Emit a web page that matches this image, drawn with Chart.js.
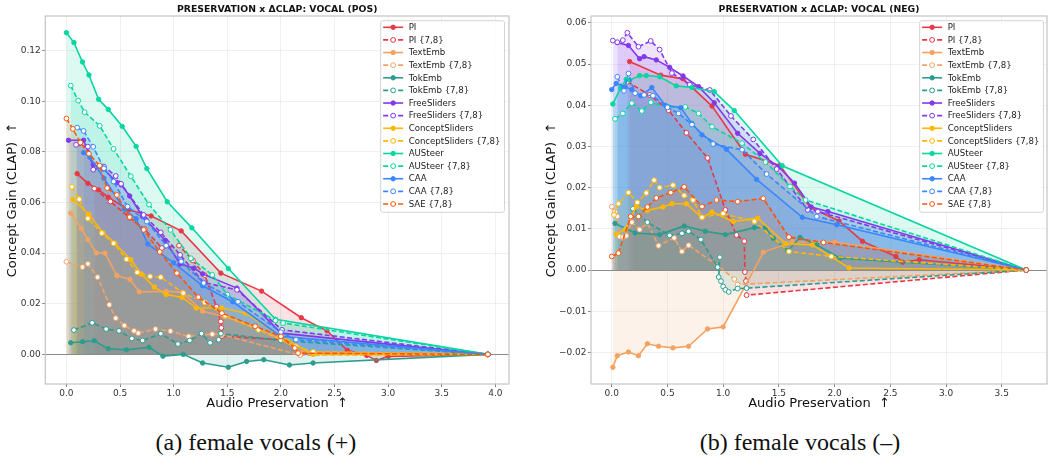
<!DOCTYPE html>
<html>
<head>
<meta charset="utf-8">
<script src="https://cdn.jsdelivr.net/npm/chart.js@4.4.0/dist/chart.umd.min.js"></script>
<style>
  body { margin: 0; background: #fff; width: 1053px; height: 459px; position: relative; overflow: hidden; }
  .panel { position: absolute; top: 0; height: 420px; }
  .cap { position: absolute; top: 429px; width: 400px; height: 26px; line-height: 26px;
         font: 24px 'Liberation Serif', 'Times New Roman', serif; color: #111; text-align: center; }
</style>
</head>
<body>
<div class="panel" style="left:0;width:525px"><canvas id="pos"></canvas></div>
<div class="panel" style="left:525px;width:528px"><canvas id="neg"></canvas></div>
<div class="cap" style="left:56px">(a) female vocals (+)</div>
<div class="cap" style="left:600px">(b) female vocals (–)</div>
<script>
const methods = ['PI', 'PI {7,8}', 'TextEmb', 'TextEmb {7,8}', 'TokEmb', 'TokEmb {7,8}',
  'FreeSliders', 'FreeSliders {7,8}', 'ConceptSliders', 'ConceptSliders {7,8}',
  'AUSteer', 'AUSteer {7,8}', 'CAA', 'CAA {7,8}', 'SAE {7,8}'];

const colors = {
  PI: '#e63946', TextEmb: '#f4a261', TokEmb: '#2a9d8f', FreeSliders: '#8338ec',
  ConceptSliders: '#ffb703', AUSteer: '#06d6a0', CAA: '#3a86ff', SAE: '#fb5607'
};

// ---- vocal (pos): [preservation, clap gain] ----
const pos_PI = [[0.10,0.0714],[0.20,0.0676],[0.30,0.0650],[0.39,0.0621],[0.58,0.0571],[0.79,0.0547],[1.07,0.0488],[1.44,0.0321],[1.82,0.0250],[2.19,0.0145],[2.43,0.0093],[2.62,0.0016],[2.80,-0.0004],[2.89,-0.0024],[3.00,-0.0008],[3.93,0]];
const pos_PI78 = [[0.26,0.0655],[0.41,0.0604],[0.59,0.0540],[0.73,0.0495],[0.89,0.0420],[1.05,0.0430],[1.18,0.0371],[1.29,0.0313],[1.40,0.0188],[1.44,0.0130],[1.445,0.0105],[1.45,0.0072],[2.01,0.0058],[2.19,0.0008],[3.93,0]];
const pos_TextEmb = [[0.04,0.0558],[0.14,0.0497],[0.20,0.0453],[0.28,0.0401],[0.36,0.0400],[0.47,0.0311],[0.59,0.0297],[0.68,0.0247],[0.93,0.0249],[1.08,0.0245],[1.27,0.0170],[1.47,0.0150],[1.78,0.0104],[2.00,0.0060],[2.19,0.0010],[3.93,0]];
const pos_TextEmb78 = [[0.00,0.0366],[0.15,0.0345],[0.20,0.0358],[0.29,0.0305],[0.40,0.0196],[0.46,0.0143],[0.54,0.0114],[0.63,0.0093],[0.67,0.0084],[0.83,0.0100],[0.97,0.0092],[1.14,0.0071],[1.36,0.0080],[1.45,0.0078],[2.18,-0.0003],[3.93,0]];
const pos_TokEmb = [[0.04,0.0046],[0.15,0.0050],[0.26,0.0054],[0.39,0.0022],[0.56,0.0018],[0.77,0.0028],[0.90,-0.0007],[1.09,0.0000],[1.27,-0.0034],[1.51,-0.0051],[1.68,-0.0028],[1.84,-0.0021],[2.08,-0.0042],[2.30,-0.0034],[3.93,0]];
const pos_TokEmb78 = [[0.07,0.0096],[0.24,0.0125],[0.37,0.0100],[0.49,0.0093],[0.61,0.0063],[0.71,0.0055],[0.88,0.0082],[1.04,0.0041],[1.15,0.0055],[1.26,0.0082],[1.34,0.0046],[1.42,0.0058],[1.44,0.0082],[2.00,0.0055],[3.93,0]];
const pos_FreeSliders = [[0.02,0.0846],[0.16,0.0846],[0.25,0.0750],[0.35,0.0733],[0.47,0.0679],[0.51,0.0670],[0.59,0.0626],[0.71,0.0545],[0.92,0.0451],[1.06,0.0357],[1.19,0.0341],[1.27,0.0318],[1.59,0.0262],[2.00,0.0084],[3.93,0]];
const pos_FreeSliders78 = [[0.09,0.0828],[0.20,0.0821],[0.25,0.0730],[0.35,0.0742],[0.46,0.0705],[0.51,0.0674],[0.72,0.0551],[0.88,0.0482],[1.06,0.0393],[1.28,0.0284],[1.59,0.0255],[2.01,0.0097],[3.93,0]];
const pos_ConceptSliders = [[0.06,0.0612],[0.21,0.0554],[0.34,0.0482],[0.45,0.0439],[0.60,0.0374],[0.70,0.0317],[0.82,0.0266],[0.93,0.0237],[1.08,0.0225],[1.21,0.0183],[1.45,0.0183],[1.67,0.0163],[1.99,0.0075],[2.30,0.0000],[3.93,0]];
const pos_ConceptSliders78 = [[0.05,0.0662],[0.12,0.0613],[0.20,0.0537],[0.33,0.0479],[0.44,0.0439],[0.56,0.0376],[0.66,0.0324],[0.78,0.0308],[0.88,0.0305],[1.09,0.0242],[1.29,0.0205],[1.48,0.0153],[1.79,0.0097],[2.14,0.0032],[2.30,0.0010],[3.93,0]];
const pos_AUSteer = [[0.00,0.1271],[0.07,0.1232],[0.15,0.1155],[0.21,0.1104],[0.30,0.1008],[0.39,0.0968],[0.52,0.0901],[0.65,0.0822],[0.75,0.0734],[0.94,0.0603],[1.17,0.0500],[1.51,0.0339],[1.95,0.0139],[3.93,0]];
const pos_AUSteer78 = [[0.04,0.1062],[0.11,0.1003],[0.17,0.0957],[0.31,0.0903],[0.44,0.0812],[0.60,0.0704],[0.77,0.0592],[0.97,0.0492],[1.16,0.0380],[1.36,0.0314],[1.50,0.0236],[1.95,0.0134],[2.02,0.0124],[3.93,0]];
const pos_CAA = [[0.16,0.0797],[0.22,0.0778],[0.35,0.0696],[0.54,0.0574],[0.65,0.0536],[0.76,0.0436],[1.00,0.0362],[1.27,0.0271],[1.55,0.0208],[2.00,0.0071],[3.93,0]];
const pos_CAA78 = [[0.10,0.0896],[0.16,0.0883],[0.25,0.0820],[0.35,0.0735],[0.44,0.0683],[0.57,0.0584],[0.75,0.0525],[0.93,0.0430],[1.07,0.0367],[1.28,0.0282],[1.60,0.0208],[2.00,0.0088],[2.14,0.0058],[3.93,0]];
const pos_SAE78 = [[0.00,0.0932],[0.06,0.0891],[0.13,0.0837],[0.21,0.0793],[0.31,0.0746],[0.38,0.0657],[0.47,0.0630],[0.59,0.0542],[0.72,0.0492],[0.87,0.0405],[1.03,0.0321],[1.23,0.0226],[1.45,0.0163],[1.76,0.0111],[2.00,0.0071],[2.13,0.0025],[2.16,0.0005],[3.93,0]];

// ---- vocal (neg) ----
const neg_PI = [[0.16,0.0506],[0.44,0.0473],[0.64,0.0464],[0.90,0.0398],[1.20,0.0281],[1.51,0.0254],[1.78,0.0152],[2.04,0.0119],[2.25,0.0070],[2.55,0.0033],[2.61,0.0019],[2.76,0.0025],[3.72,0]];
const neg_PI78 = [[0.14,0.0457],[0.34,0.0425],[0.51,0.0388],[0.67,0.0333],[0.86,0.0272],[1.02,0.0146],[1.12,0.0085],[1.19,0.0070],[1.195,-0.0005],[1.205,-0.0027],[1.21,-0.0061],[3.72,0]];
const neg_TextEmb = [[0.01,-0.0236],[0.05,-0.0208],[0.15,-0.0199],[0.24,-0.0208],[0.32,-0.0179],[0.42,-0.0185],[0.55,-0.0189],[0.69,-0.0185],[0.86,-0.0143],[1.00,-0.0138],[1.36,0.0043],[1.62,0.0068],[2.00,0.0068],[3.72,0]];
const neg_TextEmb78 = [[0.00,0.0154],[0.03,0.0142],[0.05,0.0130],[0.07,0.0081],[0.10,0.0080],[0.13,0.0083],[0.18,0.0116],[0.25,0.0098],[0.32,0.0114],[0.42,0.0059],[0.56,0.0078],[0.63,0.0045],[0.69,0.0060],[0.95,0.0011],[1.10,-0.0022],[1.13,-0.0035],[3.72,0]];
const neg_TokEmb = [[0.03,0.0113],[0.21,0.0090],[0.43,0.0086],[0.65,0.0107],[0.84,0.0094],[1.02,0.0086],[1.28,0.0103],[1.38,0.0103],[1.45,0.0077],[1.58,0.0047],[1.69,0.0079],[1.84,0.0061],[2.05,0.0029],[3.72,0]];
const neg_TokEmb78 = [[0.19,0.0149],[0.32,0.0116],[0.52,0.0084],[0.63,0.0089],[0.69,0.0094],[0.80,0.0074],[0.95,0.0007],[0.97,0.0031],[0.96,-0.0017],[0.98,-0.0027],[1.00,-0.0040],[1.02,-0.0048],[1.05,-0.0053],[1.13,-0.0045],[1.21,-0.0044],[3.72,0]];
const neg_FreeSliders = [[0.05,0.0552],[0.15,0.0545],[0.25,0.0513],[0.29,0.0518],[0.40,0.0510],[0.52,0.0492],[0.64,0.0471],[0.78,0.0445],[0.92,0.0406],[1.13,0.0332],[1.33,0.0283],[1.50,0.0250],[1.64,0.0211],[1.79,0.0153],[1.94,0.0142],[3.72,0]];
const neg_FreeSliders78 = [[0.01,0.0557],[0.05,0.0553],[0.10,0.0558],[0.14,0.0576],[0.24,0.0542],[0.35,0.0556],[0.43,0.0535],[0.54,0.0478],[0.70,0.0450],[0.88,0.0437],[1.07,0.0374],[1.27,0.0317],[1.48,0.0245],[1.76,0.0146],[1.85,0.0142],[3.72,0]];
const neg_ConceptSliders = [[0.04,0.0087],[0.12,0.0098],[0.22,0.0154],[0.32,0.0145],[0.46,0.0153],[0.54,0.0161],[0.67,0.0161],[0.81,0.0127],[0.90,0.0141],[1.09,0.0118],[1.31,0.0126],[1.56,0.0064],[1.80,0.0061],[2.13,0.0005],[3.72,0]];
const neg_ConceptSliders78 = [[0.02,0.0134],[0.06,0.0161],[0.15,0.0188],[0.23,0.0164],[0.31,0.0187],[0.38,0.0218],[0.43,0.0200],[0.55,0.0206],[0.65,0.0181],[0.73,0.0170],[0.81,0.0128],[1.00,0.0137],[1.28,0.0118],[1.59,0.0045],[1.97,0.0033],[3.72,0]];
const neg_AUSteer = [[0.01,0.0403],[0.08,0.0442],[0.13,0.0463],[0.16,0.0461],[0.25,0.0472],[0.31,0.0472],[0.43,0.0469],[0.58,0.0447],[0.72,0.0443],[0.92,0.0433],[1.10,0.0387],[1.53,0.0253],[3.72,0]];
const neg_AUSteer78 = [[0.03,0.0367],[0.10,0.0380],[0.18,0.0405],[0.27,0.0386],[0.35,0.0407],[0.51,0.0396],[0.66,0.0396],[0.78,0.0380],[0.90,0.0348],[1.17,0.0308],[1.38,0.0262],[1.60,0.0203],[1.74,0.0170],[3.72,0]];
const neg_CAA = [[0.00,0.0438],[0.04,0.0453],[0.12,0.0445],[0.18,0.0438],[0.26,0.0423],[0.36,0.0443],[0.48,0.0400],[0.62,0.0394],[0.72,0.0356],[0.81,0.0328],[1.03,0.0293],[1.30,0.0220],[1.71,0.0128],[2.02,0.0110],[3.72,0]];
const neg_CAA78 = [[0.05,0.0469],[0.11,0.0435],[0.15,0.0477],[0.21,0.0429],[0.29,0.0425],[0.37,0.0423],[0.50,0.0395],[0.60,0.0380],[0.72,0.0353],[0.91,0.0306],[1.17,0.0292],[1.39,0.0233],[1.84,0.0130],[3.72,0]];
const neg_SAE78 = [[0.00,0.0033],[0.06,0.0041],[0.17,0.0130],[0.24,0.0130],[0.32,0.0153],[0.40,0.0175],[0.53,0.0188],[0.65,0.0202],[0.81,0.0154],[0.94,0.0170],[1.13,0.0166],[1.36,0.0174],[1.59,0.0080],[1.90,0.0067],[3.72,0]];

const posSeries = [pos_PI, pos_PI78, pos_TextEmb, pos_TextEmb78, pos_TokEmb, pos_TokEmb78,
  pos_FreeSliders, pos_FreeSliders78, pos_ConceptSliders, pos_ConceptSliders78,
  pos_AUSteer, pos_AUSteer78, pos_CAA, pos_CAA78, pos_SAE78];
const negSeries = [neg_PI, neg_PI78, neg_TextEmb, neg_TextEmb78, neg_TokEmb, neg_TokEmb78,
  neg_FreeSliders, neg_FreeSliders78, neg_ConceptSliders, neg_ConceptSliders78,
  neg_AUSteer, neg_AUSteer78, neg_CAA, neg_CAA78, neg_SAE78];

const posXTicks = [0, 0.5, 1, 1.5, 2, 2.5, 3, 3.5, 4];
const posYTicks = [0, 0.02, 0.04, 0.06, 0.08, 0.10, 0.12];
const negXTicks = [0, 0.5, 1, 1.5, 2, 2.5, 3, 3.5];
const negYTicks = [-0.02, -0.01, 0, 0.01, 0.02, 0.03, 0.04, 0.05, 0.06];

const FONT = "'DejaVu Sans', sans-serif";

function withAlpha(hex, a) {
  const n = parseInt(hex.slice(1), 16);
  return `rgba(${n >> 16},${(n >> 8) & 255},${n & 255},${a})`;
}

function fmtY(v) {
  const s = Math.abs(v).toFixed(2);
  return v < -1e-9 ? '\u2212' + s : s;
}

function buildDatasets(series) {
  return methods.map((name, i) => {
    const c = colors[name.split(' ')[0]];
    const hollow = name.includes('{');
    return {
      label: name,
      data: series[i].map(([x, y]) => ({ x, y })),
      borderColor: c,
      backgroundColor: withAlpha(c, 0.14),
      borderWidth: 1.6,
      borderDash: hollow ? [5, 2.5] : [],
      pointRadius: hollow ? 2.4 : 2.2,
      pointBorderWidth: 1,
      pointBorderColor: c,
      pointBackgroundColor: hollow ? '#fff' : c,
      fill: { value: 0 },
      tension: 0,
      order: -i
    };
  });
}

// frame, zero line, title and inset legend drawn around the datasets
const decorations = {
  id: 'decorations',
  beforeDatasetsDraw(chart) {
    const { ctx, chartArea: a, scales: { y } } = chart;
    const y0 = Math.round(y.getPixelForValue(0)) + 0.5;
    ctx.save();
    ctx.strokeStyle = '#8a8a8a';
    ctx.lineWidth = 1;
    ctx.beginPath(); ctx.moveTo(a.left, y0); ctx.lineTo(a.right, y0); ctx.stroke();
    ctx.restore();
  },
  afterDraw(chart, args, opts) {
    const { ctx, chartArea: a } = chart;
    ctx.save();
    ctx.strokeStyle = '#c4c4c4';
    ctx.lineWidth = 1.2;
    ctx.strokeRect(a.left, a.top, a.right - a.left, a.bottom - a.top);

    ctx.fillStyle = '#111';
    ctx.font = `bold 9.3px ${FONT}`;
    ctx.textAlign = 'center';
    ctx.textBaseline = 'middle';
    ctx.fillText(opts.title, (a.left + a.right) / 2, 10);

    const sets = chart.data.datasets;
    ctx.font = `8.6px ${FONT}`;
    const textW = Math.max(...sets.map(d => ctx.measureText(d.label).width));
    const rowH = 12.62, handle = 20, padL = 2.5, gap = 5.5, padR = 4;
    const w = padL + handle + gap + textW + padR;
    const h = rowH * sets.length + 2.3;
    const x0 = a.right - opts.legendRight - w, y0 = a.top + 4.7;
    ctx.fillStyle = 'rgba(255,255,255,0.85)';
    ctx.strokeStyle = '#d4d4d4';
    ctx.lineWidth = 1;
    ctx.beginPath(); ctx.roundRect(x0, y0, w, h, 2); ctx.fill(); ctx.stroke();

    sets.forEach((d, i) => {
      const ry = y0 + 6.6 + i * rowH;
      const hx = x0 + padL;
      ctx.strokeStyle = d.borderColor;
      ctx.lineWidth = d.borderWidth;
      ctx.setLineDash(d.borderDash);
      ctx.beginPath(); ctx.moveTo(hx, ry); ctx.lineTo(hx + handle, ry); ctx.stroke();
      ctx.setLineDash([]);
      ctx.beginPath(); ctx.arc(hx + handle / 2, ry, d.pointRadius, 0, Math.PI * 2);
      ctx.fillStyle = d.pointBackgroundColor;
      ctx.fill();
      ctx.lineWidth = 1;
      ctx.stroke();
      ctx.fillStyle = '#222';
      ctx.textAlign = 'left';
      ctx.textBaseline = 'middle';
      ctx.fillText(d.label, hx + handle + gap, ry + 0.5);
    });
    ctx.restore();
  }
};

function makeChart(id, cfg) {
  const grid = { color: '#ececec', lineWidth: 0.8, tickLength: 3, tickColor: '#666' };
  return new Chart(document.getElementById(id), {
    type: 'line',
    data: { datasets: buildDatasets(cfg.series) },
    options: {
      responsive: true,
      maintainAspectRatio: false,
      animation: false,
      layout: { padding: { top: 16, right: cfg.padRight, left: 0, bottom: 0 } },
      plugins: {
        legend: { display: false },
        tooltip: { enabled: false },
        filler: { drawTime: 'beforeDatasetsDraw' },
        decorations: { title: cfg.title, legendRight: cfg.legendRight }
      },
      scales: {
        x: {
          type: 'linear', min: cfg.xMin, max: cfg.xMax,
          afterBuildTicks: s => { s.ticks = cfg.xTicks.map(v => ({ value: v })); },
          afterFit: s => { s.height = 36; },
          grid, border: { display: false },
          ticks: { font: { size: 9, family: FONT }, color: '#333', padding: 1.5, maxRotation: 0,
                   callback: v => v.toFixed(1) },
          title: { display: true, text: 'Audio Preservation  \u2191', color: '#111',
                   font: { size: 13, family: FONT }, padding: { top: 0, bottom: 9 } }
        },
        y: {
          type: 'linear', min: cfg.yMin, max: cfg.yMax,
          afterBuildTicks: s => { s.ticks = cfg.yTicks.map(v => ({ value: v })); },
          afterFit: s => { s.width = cfg.yWidth; },
          grid, border: { display: false },
          ticks: { font: { size: 9, family: FONT }, color: '#333', padding: 1.5, callback: fmtY },
          title: { display: true, text: 'Concept Gain (CLAP)  \u2191', color: '#111',
                   font: { size: 13, family: FONT }, padding: { top: cfg.yTitlePad, bottom: 0 } }
        }
      }
    },
    plugins: [decorations]
  });
}

makeChart('pos', {
  series: posSeries, title: 'PRESERVATION x \u0394CLAP: VOCAL (POS)',
  xMin: -0.197, xMax: 4.127, yMin: -0.0117, yMax: 0.1337,
  xTicks: posXTicks, yTicks: posYTicks,
  yWidth: 45.3, padRight: 16, yTitlePad: 5.2, legendRight: 4.5
});

makeChart('neg', {
  series: negSeries, title: 'PRESERVATION x \u0394CLAP: VOCAL (NEG)',
  xMin: -0.186, xMax: 3.906, yMin: -0.02766, yMax: 0.06166,
  xTicks: negXTicks, yTicks: negYTicks,
  yWidth: 66, padRight: 6, yTitlePad: 18.9, legendRight: 3.5
});
</script>
</body>
</html>
